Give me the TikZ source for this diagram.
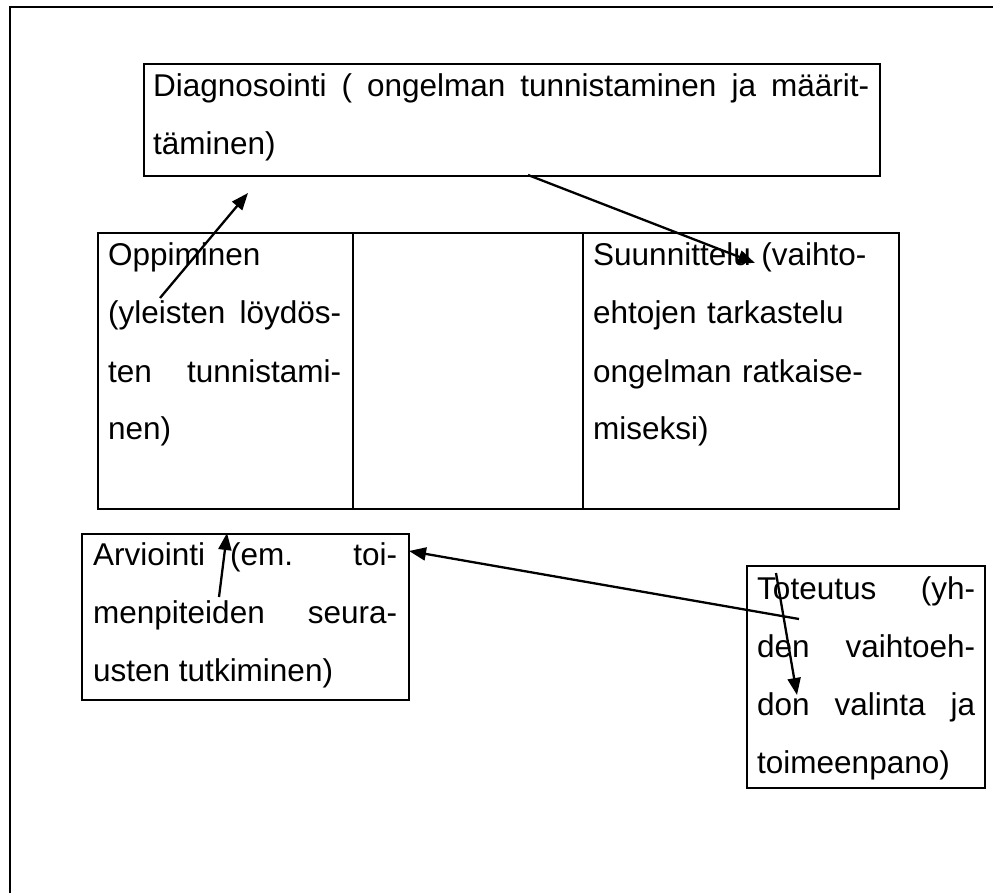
\documentclass[tikz,border=0pt]{standalone}
\usepackage{fontspec}
\setmainfont{Liberation Sans}
\usetikzlibrary{arrows.meta}
\hbadness=10000
\begin{document}
\begin{tikzpicture}[x=1pt,y=-1pt,
  box/.style={draw, line width=2.4pt, rectangle, inner sep=0pt, anchor=north west},
  txt/.style={anchor=base west, inner sep=0pt, align=justify,
    font=\fontsize{31.5}{58}\selectfont,
    execute at begin node={\hyphenpenalty=10000\exhyphenpenalty=10000}},
  arr/.style={line width=2.3pt, -{Triangle[length=17pt,width=13pt]}},
  frame/.style={line width=2.6pt}]
\useasboundingbox (0,0) rectangle (993,893);

% outer frame (top and left only)
\coordinate (fr1) at (993,7);
\coordinate (fr2) at (10,7);
\coordinate (fr3) at (10,893);
\draw[frame] (fr1) -- (fr2) -- (fr3);

% Diagnosointi
\node[box, minimum width=736pt, minimum height=112pt] (diag) at (143,63) {};
\node[txt, text width=716pt] (diagt) at (153,97)
  {Diagnosointi ( ongelman tunnistaminen ja määrit-\linebreak täminen)};

% table row
\node[box, minimum width=255pt, minimum height=276pt] (opp) at (97,232) {};
\node[box, minimum width=230pt, minimum height=276pt] (mid) at (352,232) {};
\node[box, minimum width=316pt, minimum height=276pt] (suu) at (582,232) {};
\node[txt, text width=233pt] (oppt) at (108,266)
  {Oppiminen\newline (yleisten löydös-\linebreak ten tunnistami-\linebreak nen)};
\node[txt, text width=295pt, align=left] (suut) at (593,266)
  {Suunnittelu (vaihto-\\ ehtojen tarkastelu\\ ongelman ratkaise-\\ miseksi)};

% Arviointi
\node[box, minimum width=327pt, minimum height=166pt] (arv) at (81,533) {};
\node[txt, text width=304pt] (arvt) at (93,565)
  {Arviointi (em. toi-\linebreak menpiteiden seura-\linebreak usten tutkiminen)};

% Toteutus
\node[box, minimum width=238pt, minimum height=222pt] (tot) at (746,565) {};
\node[txt, text width=218pt] (tott) at (757,599)
  {Toteutus (yh-\linebreak den vaihtoeh-\linebreak don valinta ja\linebreak toimeenpano)};

% arrows
\coordinate (a1s) at (160,298); \coordinate (a1e) at (248,193);
\coordinate (a2s) at (528,175); \coordinate (a2e) at (755,263);
\coordinate (a3s) at (219,597); \coordinate (a3e) at (227,533);
\coordinate (a4s) at (799,619); \coordinate (a4e) at (409,551);
\coordinate (a5s) at (776,573); \coordinate (a5e) at (797,695);
\draw[arr] (a1s) -- (a1e);
\draw[arr] (a2s) -- (a2e);
\draw[arr] (a3s) -- (a3e);
\draw[arr] (a4s) -- (a4e);
\draw[arr] (a5s) -- (a5e);
\end{tikzpicture}
\end{document}
